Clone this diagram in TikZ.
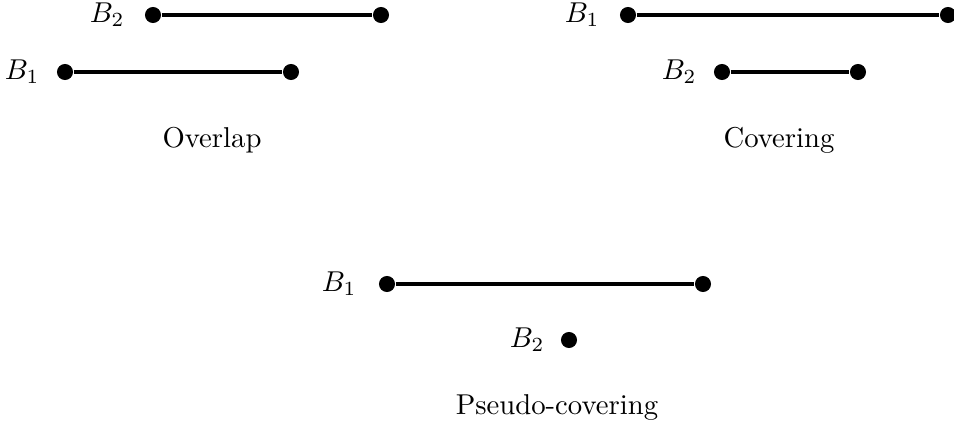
\documentclass[tikz,border=0pt]{standalone}
\begin{document}
\begin{tikzpicture}[x=0.3484pt,y=-0.3484pt,
  dot/.style={circle,fill=black,inner sep=0pt,minimum size=5.6pt},
  seg/.style={line width=1.4pt},
  lab/.style={anchor=east,inner sep=0pt},
  captext/.style={anchor=base,inner sep=0pt}]
\useasboundingbox (0,0) rectangle (954,428);
% Overlap
\node[dot] (o2a) at (153,15) {};
\node[dot] (o2b) at (381,15) {};
\node[lab] (o2l) at (125,15) {$B_2$};
\node[dot] (o1a) at (65,72) {};
\node[dot] (o1b) at (291,72) {};
\node[lab] (o1l) at (40,72) {$B_1$};
\draw[seg] (o2a) -- (o2b);
\draw[seg] (o1a) -- (o1b);
\node[captext] (ocap) at (212,147) {Overlap};
% Covering
\node[dot] (c1a) at (628,15) {};
\node[dot] (c1b) at (948,15) {};
\node[lab] (c1l) at (600,15) {$B_1$};
\node[dot] (c2a) at (722,72) {};
\node[dot] (c2b) at (858,72) {};
\node[lab] (c2l) at (697,72) {$B_2$};
\draw[seg] (c1a) -- (c1b);
\draw[seg] (c2a) -- (c2b);
\node[captext] (ccap) at (779,147) {Covering};
% Pseudo-covering
\node[dot] (p1a) at (387,284) {};
\node[dot] (p1b) at (703,284) {};
\node[lab] (p1l) at (357,284) {$B_1$};
\node[dot] (p2) at (569,340) {};
\node[lab] (p2l) at (545,340) {$B_2$};
\draw[seg] (p1a) -- (p1b);
\node[captext] (pcap) at (557,415) {Pseudo-covering};
\end{tikzpicture}
\end{document}
